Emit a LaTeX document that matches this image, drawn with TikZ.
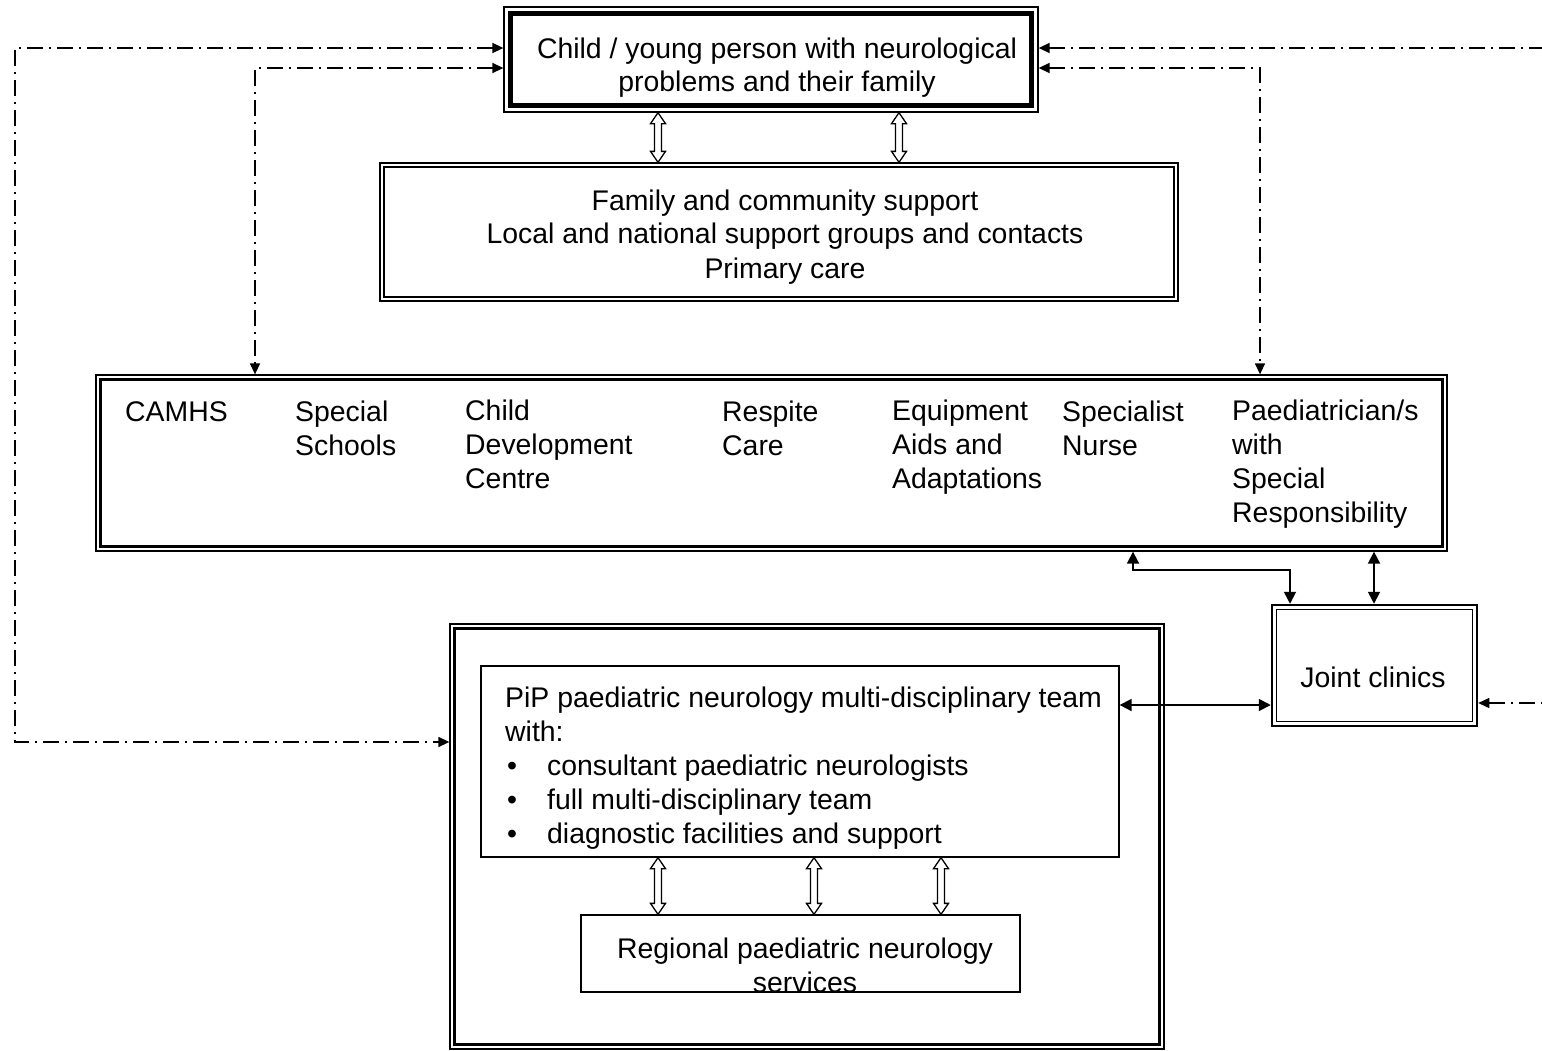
\documentclass[tikz,border=0pt]{standalone}
\usepackage{fontspec}
\setmainfont{Liberation Sans}
\usetikzlibrary{calc,arrows.meta}
\tikzset{
  lab/.style={font=\fontsize{28.4}{34}\selectfont, inner sep=0pt},
  box/.style={draw, line width=1.3pt, inner sep=0pt},
  band/.style={line width=3pt},
  dashdot/.style={line width=1.4pt, dash pattern=on 16pt off 6pt on 2pt off 6pt,
    {Triangle[length=11pt,width=10pt]}-{Triangle[length=11pt,width=10pt]}},
  link/.style={line width=1.8pt, {Triangle[length=12pt,width=12pt]}-{Triangle[length=12pt,width=12pt]}},
  hollow/.style={draw, fill=white, line width=1.3pt, to path={
    let \p1=(\tikztostart), \p2=(\tikztotarget) in
    (\x1,\y1) -- (\x1+7.5pt,\y1-11pt) -- (\x1+3.5pt,\y1-11pt) -- (\x1+3.5pt,\y2+11pt)
    -- (\x1+7.5pt,\y2+11pt) -- (\x1,\y2) -- (\x1-7.5pt,\y2+11pt) -- (\x1-3.5pt,\y2+11pt)
    -- (\x1-3.5pt,\y1-11pt) -- (\x1-7.5pt,\y1-11pt) -- cycle}}
}

\begin{document}
\begin{tikzpicture}[x=1pt,y=-1pt]
\useasboundingbox (0,0) rectangle (1542,1050);

% boxes
\node[box, minimum width=534pt, minimum height=105pt] (child) at (771,59.5) {};
\draw[line width=4.5pt] ([shift={(7pt,-7pt)}]child.north west) rectangle ([shift={(-7pt,7pt)}]child.south east);
\node[box, minimum width=798pt, minimum height=138pt] (fam) at (779,232) {};
\draw[band, line width=2.6pt] ([shift={(4.5pt,-4.5pt)}]fam.north west) rectangle ([shift={(-4.5pt,4.5pt)}]fam.south east);
\node[box, minimum width=1351pt, minimum height=176pt] (serv) at (771.5,463) {};
\draw[band] ([shift={(5pt,-5pt)}]serv.north west) rectangle ([shift={(-5pt,5pt)}]serv.south east);
\node[box, line width=2.5pt, minimum width=205pt, minimum height=121pt] (joint) at (1374.5,665.5) {};
\draw[line width=1.2pt] ([shift={(5.5pt,-5.5pt)}]joint.north west) rectangle ([shift={(-5.5pt,5.5pt)}]joint.south east);
\node[box, minimum width=714pt, minimum height=425pt] (pip) at (807,836.5) {};
\draw[band] ([shift={(5pt,-5pt)}]pip.north west) rectangle ([shift={(-5pt,5pt)}]pip.south east);
\node[box, minimum width=638pt, minimum height=191pt] (team) at (800,761.5) {};
\node[box, minimum width=439pt, minimum height=77pt] (reg) at (800.5,953.5) {};

% texts (base = last line)
\node[lab, anchor=base] (childA) at (777,58) {Child / young person with neurological};
\node[lab, anchor=base] (childB) at (777,91) {problems and their family};
\node[lab, anchor=base] (famA) at (785,210) {Family and community support};
\node[lab, anchor=base] (famB) at (785,243) {Local and national support groups and contacts};
\node[lab, anchor=base] (famC) at (785,278) {Primary care};
\node[lab, anchor=base west, align=left] (camhs) at (125,421) {CAMHS};
\node[lab, anchor=base west, align=left] (school) at (295,455) {Special\\Schools};
\node[lab, anchor=base west, align=left] (cdc) at (465,488) {Child\\Development\\Centre};
\node[lab, anchor=base west, align=left] (respite) at (722,455) {Respite\\Care};
\node[lab, anchor=base west, align=left] (equip) at (892,488) {Equipment\\Aids and\\Adaptations};
\node[lab, anchor=base west, align=left] (nurse) at (1062,455) {Specialist\\Nurse};
\node[lab, anchor=base west, align=left] (paed) at (1232,522) {Paediatrician/s\\with\\Special\\Responsibility};
\node[lab, anchor=base] (jointtxt) at (1373,687) {Joint clinics};
\node[lab, anchor=base west, align=left] (teamA) at (505,741) {PiP paediatric neurology multi-disciplinary team\\with:};
\node[lab, anchor=base west] (dotA) at (507,775) {•};
\node[lab, anchor=base west] (dotB) at (507,809) {•};
\node[lab, anchor=base west] (dotC) at (507,843) {•};
\node[lab, anchor=base west] (teamB) at (547,775) {consultant paediatric neurologists};
\node[lab, anchor=base west] (teamC) at (547,809) {full multi-disciplinary team};
\node[lab, anchor=base west] (teamD) at (547,843) {diagnostic facilities and support};
\begin{scope}
\clip (reg.north west) rectangle ([yshift=1pt]reg.south east);
\node[lab, anchor=base] (regA) at (805,958) {Regional paediatric neurology};
\node[lab, anchor=base] (regB) at (805,992) {services};
\end{scope}

% hollow arrows
\draw[hollow] (child.south -| 658,0) to (fam.north -| 658,0);
\draw[hollow] (child.south -| 899,0) to (fam.north -| 899,0);
\draw[hollow] (team.south -| 658,0) to (reg.north -| 658,0);
\draw[hollow] (team.south -| 814,0) to (reg.north -| 814,0);
\draw[hollow] (team.south -| 941,0) to (reg.north -| 941,0);

% dash-dot links
\coordinate (rtop) at (1542,48);
\coordinate (rlow) at (1542,703);
\draw[dashdot] (child.west |- 0,48) -- (15,48) -- (15,742) -- (pip.west |- 0,742);
\draw[dashdot] (child.west |- 0,68) -- (255,68) -- (serv.north -| 255,0);
\draw[dashdot] (child.east |- 0,68) -- (1260,68) -- (serv.north -| 1260,0);
\draw[dashdot, {Triangle[length=11pt,width=10pt]}-] (child.east |- 0,48) -- (rtop);
\draw[dashdot, {Triangle[length=11pt,width=10pt]}-] (joint.east |- 0,703) -- (rlow);

% solid links
\draw[link] (serv.south -| 1133,0) -- (1133,570) -- (1290,570) -- (joint.north -| 1290,0);
\draw[link] (serv.south -| 1374,0) -- (joint.north -| 1374,0);
\draw[link] (team.east |- 0,705) -- (joint.west |- 0,705);
\end{tikzpicture}
\end{document}
